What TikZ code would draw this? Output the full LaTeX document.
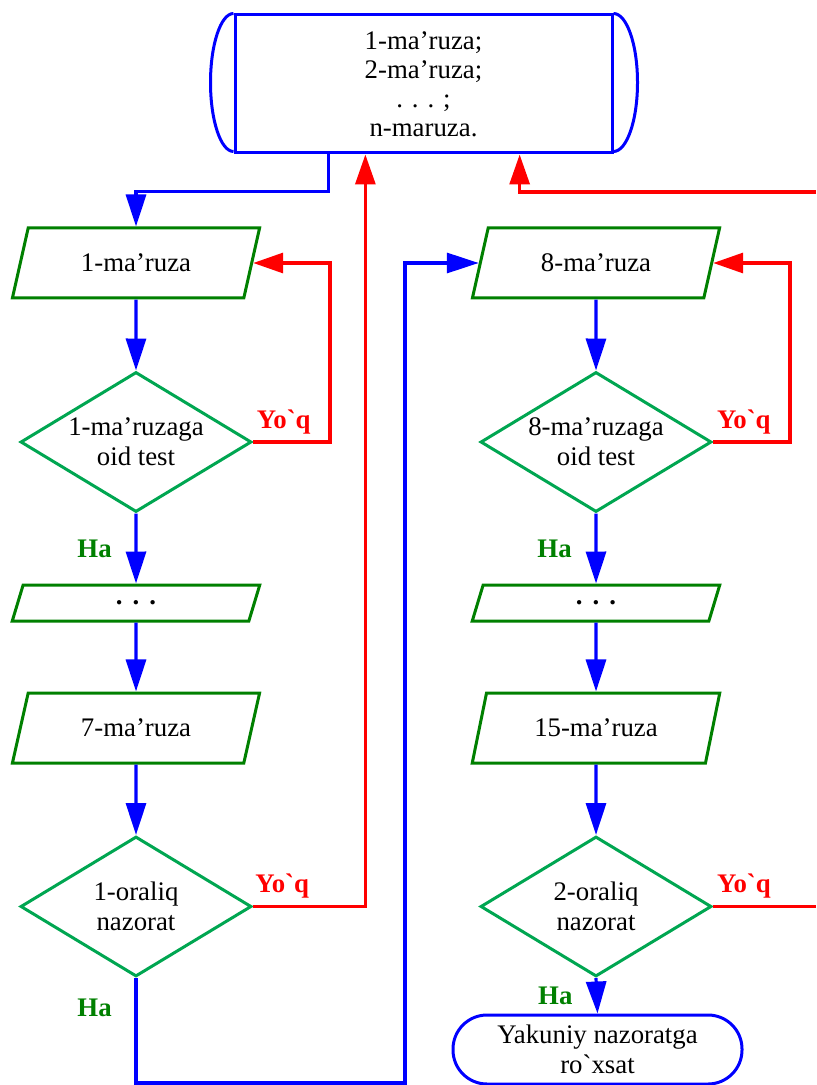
\documentclass[tikz,border=0pt]{standalone}
\usepackage{fontspec}
\setmainfont{Liberation Serif}[Ligatures=TeXOff]
\usepackage{tikz}
\usetikzlibrary{shapes.geometric, arrows.meta, positioning, calc}
\definecolor{flowblue}{RGB}{0, 0, 255}
\definecolor{backred}{RGB}{255, 0, 0}
\definecolor{boxgreen}{RGB}{0, 128, 0}
\definecolor{testgreen}{RGB}{0, 166, 81}

\begin{document}
\begin{tikzpicture}[x=0.5pt, y=-0.5pt,
    font=\fontsize{13.4}{15}\selectfont,
    lecture/.style={trapezium, trapezium left angle=66, trapezium right angle=114,
        trapezium stretches=true, draw=boxgreen, line width=1.5pt,
        minimum width=124pt, minimum height=35pt, inner sep=0pt},
    check/.style={diamond, aspect=1.65, draw=testgreen, line width=1.5pt,
        minimum width=115.5pt, minimum height=70pt, inner sep=0pt, align=center},
    flow/.style={flowblue, line width=1.6pt, -{Triangle[length=16pt, width=10pt]}},
    back/.style={backred, line width=1.6pt, -{Triangle[length=15pt, width=10pt]}},
    nolab/.style={text=backred, font=\fontsize{13.4}{15}\selectfont\bfseries},
    yeslab/.style={text=boxgreen, font=\fontsize{13.4}{15}\selectfont\bfseries}]
    \useasboundingbox (0,0) rectangle (816,1085);

    % Lecture store
    \node[draw=flowblue, line width=1.5pt, minimum width=188.5pt, minimum height=69pt,
        align=center, font=\fontsize{13.4}{14.5}\selectfont] (store) at (423.5,84)
        {1-ma’ruza;\\2-ma’ruza;\\. . . ;\\n-maruza.};
    \draw[flowblue, line width=1.5pt] (store.north west)
        arc[start angle=90, end angle=270, x radius=11.5pt, y radius=34.5pt];
    \draw[flowblue, line width=1.5pt] (store.north east)
        arc[start angle=90, end angle=-90, x radius=12pt, y radius=34.5pt];

    % Left column
    \node[lecture] (lec1) at (136,263) {1-ma’ruza};
    \node[check] (test1) at (136,442) {1-ma’ruzaga\\oid test};
    \node[lecture, minimum height=18pt] (dots1) at (136,603) {\bfseries .\hspace{5pt}.\hspace{5pt}.};
    \node[lecture] (lec7) at (136,728) {7-ma’ruza};
    \node[check] (mid1) at (136,906.5) {1-oraliq\\nazorat};

    % Right column
    \node[lecture] (lec8) at (596,263) {8-ma’ruza};
    \node[check] (test8) at (596,442) {8-ma’ruzaga\\oid test};
    \node[lecture, minimum height=18pt] (dots2) at (596,603) {\bfseries .\hspace{5pt}.\hspace{5pt}.};
    \node[lecture] (lec15) at (596,728) {15-ma’ruza};
    \node[check] (mid2) at (596,906.5) {2-oraliq\\nazorat};
    \node[draw=flowblue, line width=1.5pt, rounded corners=17pt, minimum width=144.5pt,
        minimum height=34.5pt, align=center] (final) at (597.5,1049.5)
        {Yakuniy nazoratga\\ro`xsat};

    \coordinate (loopL) at (405,1083);
    \coordinate (exitR) at (816,906.5);
    \coordinate (entryR) at (816,192);

    % Connectors, left
    \draw[flow] ($(store.south west)!0.25!(store.south east)$) -- ++(0,37) -| (lec1.north);
    \draw[flow] (lec1.south) -- (test1.north);
    \draw[back] (test1.east) -- node[nolab, above, pos=0.4] {Yo`q} ++(77,0) |- (lec1.east);
    \draw[flow] (test1.south) -- node[yeslab, left=8pt] {Ha} (dots1.north);
    \draw[flow] (dots1.south) -- (lec7.north);
    \draw[flow] (lec7.south) -- (mid1.north);
    \draw[back] (mid1.east) -| node[nolab, above, pos=0.13] {Yo`q}
        ($(store.south west)!0.347!(store.south east)$);
    \draw[flow] (mid1.south) |- node[yeslab, left=8pt, pos=0.14] {Ha} (loopL) |- (lec8.west);

    % Connectors, right
    \draw[flow] (lec8.south) -- (test8.north);
    \draw[back] (test8.east) -- node[nolab, above, pos=0.4] {Yo`q} ++(77,0) |- (lec8.east);
    \draw[flow] (test8.south) -- node[yeslab, left=8pt] {Ha} (dots2.north);
    \draw[flow] (dots2.south) -- (lec15.north);
    \draw[flow] (lec15.south) -- (mid2.north);
    \draw[backred, line width=1.6pt] (mid2.east) -- node[nolab, above, pos=0.3] {Yo`q} (exitR);
    \draw[back] (entryR) -| ($(store.south west)!0.753!(store.south east)$);
    \draw[flow] (mid2.south) -- node[yeslab, left=8pt] {Ha} (final.north);
\end{tikzpicture}
\end{document}
